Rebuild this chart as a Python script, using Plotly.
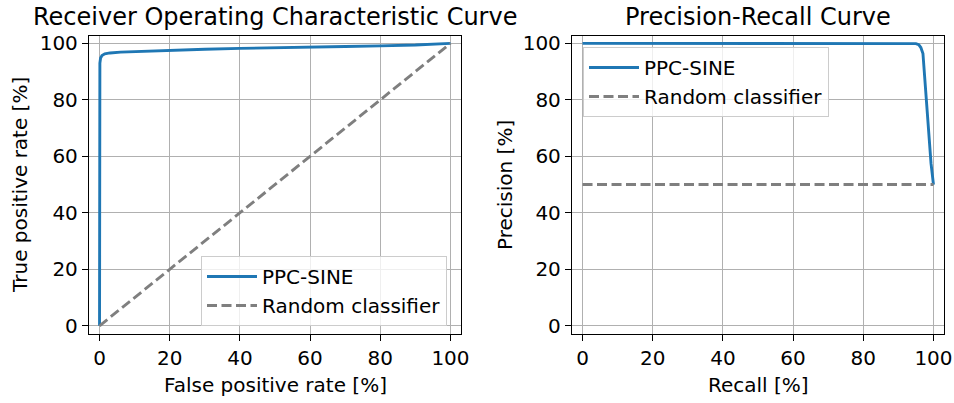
import plotly.graph_objects as go

# ROC curve data (percent)
roc_fpr = [0, 0, 0.1, 0.3, 0.7, 1.5, 3, 6, 10, 20, 30, 40, 50, 60, 70, 80, 90, 100]
roc_tpr = [0, 90, 93, 94.8, 95.7, 96.3, 96.6, 96.9, 97.1, 97.5, 97.9, 98.2, 98.5, 98.7, 98.9, 99.1, 99.4, 100]
roc_rand_x = [0, 100]
roc_rand_y = [0, 100]

# Precision-Recall data (percent)
pr_recall = [0, 94, 95, 95.8, 96.4, 97, 97.6, 98.4, 99.3, 100]
pr_precision = [100, 100, 99.9, 99.5, 98.5, 96.4, 87, 72, 57.5, 50]
pr_rand_x = [0, 100]
pr_rand_y = [50, 50]

tick_vals = [0, 20, 40, 60, 80, 100]

W, H = 954, 403
BLUE = "#1f77b4"
GRAY = "#7f7f7f"
FONT = "DejaVu Sans"
FS = 20

fig = go.Figure()
fig.add_trace(go.Scatter(x=roc_fpr, y=roc_tpr, mode="lines", name="PPC-SINE",
                         line=dict(color=BLUE, width=2.9), xaxis="x", yaxis="y", legend="legend"))
fig.add_trace(go.Scatter(x=roc_rand_x, y=roc_rand_y, mode="lines", name="Random classifier",
                         line=dict(color=GRAY, width=2.9, dash="10px,4.5px"), xaxis="x", yaxis="y", legend="legend"))
fig.add_trace(go.Scatter(x=pr_recall, y=pr_precision, mode="lines", name="PPC-SINE",
                         line=dict(color=BLUE, width=2.9), xaxis="x2", yaxis="y2", legend="legend2"))
fig.add_trace(go.Scatter(x=pr_rand_x, y=pr_rand_y, mode="lines", name="Random classifier",
                         line=dict(color=GRAY, width=2.9, dash="10px,4.5px"), xaxis="x2", yaxis="y2", legend="legend2"))

def px_x(p):
    return p / W

def px_y(p):
    return (H - p) / H

axis_common = dict(
    tickvals=tick_vals, ticks="outside", ticklen=6, tickwidth=1.3, tickcolor="black",
    showline=True, linecolor="black", linewidth=1.3, mirror=True,
    showgrid=True, gridcolor="#b0b0b0", gridwidth=1.3, zeroline=False,
    automargin=False,
    tickfont=dict(family=FONT, size=FS, color="black"),
)

legend_common = dict(
    xanchor="left", yanchor="top", itemwidth=50,
    bgcolor="rgba(255,255,255,0.8)", bordercolor="#cccccc", borderwidth=1,
    font=dict(family=FONT, size=FS, color="black"), tracegroupgap=0,
)

y_dom = [px_y(334), px_y(35.7)]
fig.update_layout(
    width=W, height=H,
    margin=dict(l=0, r=0, t=0, b=0, autoexpand=False),
    paper_bgcolor="white", plot_bgcolor="white",
    font=dict(family=FONT, size=FS, color="black"),
    xaxis=dict(domain=[px_x(89), px_x(461)], range=[-3, 103], anchor="y", **axis_common),
    yaxis=dict(domain=y_dom, range=[-2.9, 102.7], anchor="x", **axis_common),
    xaxis2=dict(domain=[px_x(572), px_x(944)], range=[-3, 103], anchor="y2", **axis_common),
    yaxis2=dict(domain=y_dom, range=[-2.9, 102.7], anchor="x2", **axis_common),
    legend=dict(x=px_x(201), y=px_y(256), **legend_common),
    legend2=dict(x=px_x(583), y=px_y(47), **legend_common),
    showlegend=True,
)

annots = [
    dict(text="Receiver Operating Characteristic Curve", x=px_x(275), y=px_y(17), size=24, angle=0),
    dict(text="Precision-Recall Curve", x=px_x(758), y=px_y(17), size=24, angle=0),
    dict(text="False positive rate [%]", x=px_x(275), y=px_y(385), size=FS, angle=0),
    dict(text="Recall [%]", x=px_x(758), y=px_y(385), size=FS, angle=0),
    dict(text="True positive rate [%]", x=px_x(20), y=px_y(185), size=FS, angle=-90),
    dict(text="Precision [%]", x=px_x(505), y=px_y(185), size=FS, angle=-90),
]
for a in annots:
    fig.add_annotation(text=a["text"], x=a["x"], y=a["y"], xref="paper", yref="paper",
                       xanchor="center", yanchor="middle", showarrow=False, textangle=a["angle"],
                       font=dict(family=FONT, size=a["size"], color="black"))

fig.write_html("out.html")
